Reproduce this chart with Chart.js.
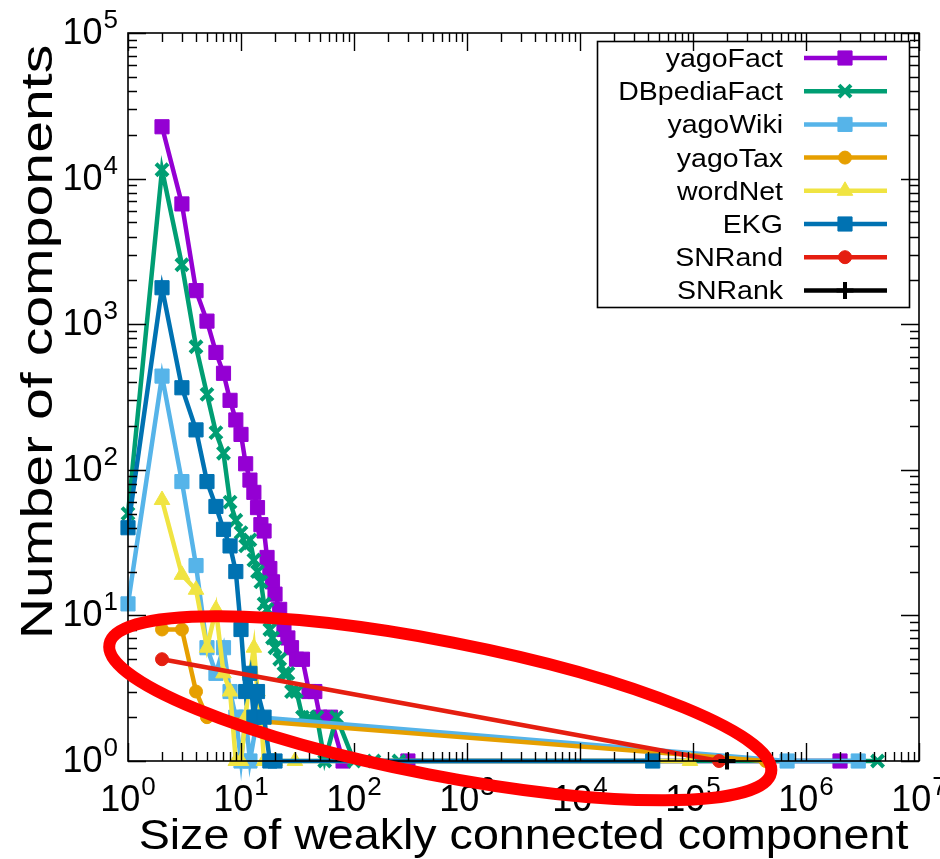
<!DOCTYPE html>
<html>
<head>
<meta charset="utf-8">
<script src="https://cdn.jsdelivr.net/npm/chart.js@4.4.0/dist/chart.umd.min.js"></script>
<style>
  html, body { margin: 0; padding: 0; background: #fff; }
</style>
</head>
<body>
<canvas id="chart" width="940" height="859"></canvas>
<script>
// component size (x) and number of components (y) per graph
const yagoFactSize = [2, 3, 4, 5, 6, 7, 8, 9, 10, 11, 12, 13, 14, 15, 16, 17, 18, 19, 20, 22, 24, 26, 28, 31, 35, 40, 45, 50, 62, 80, 300, 2000000];
const yagoFactCount = [22700, 6700, 1700, 1050, 640, 460, 300, 220, 175, 110, 85, 70, 55, 42, 38, 25, 21, 17, 14, 11, 8, 7, 6, 5, 5, 3, 3, 2, 2, 1, 1, 1];

const dbpediaFactSize = [1, 2, 3, 4, 5, 6, 7, 8, 9, 10, 11, 12, 13, 14, 15, 16, 17, 18, 19, 20, 22, 24, 26, 28, 31, 35, 40, 47, 55, 70, 100, 150, 250, 4300000];
const dbpediaFactCount = [50, 11500, 2560, 700, 330, 180, 130, 60, 45, 37, 30, 33, 24, 20, 17, 12, 11, 8, 7, 6, 5, 4, 4, 3, 3, 2, 2, 2, 1, 2, 1, 1, 1, 1];

const yagoWikiSize = [1, 2, 3, 4, 5, 6, 7, 8, 9, 10, 11, 12, 14, 680000, 2900000];
const yagoWikiCount = [12, 440, 83, 22, 6, 4, 6, 3, 2, 1, 2, 1, 2, 1, 1];

const yagoTaxSize = [2, 3, 4, 5, 440000];
const yagoTaxCount = [8, 8, 3, 2, 1];

const wordNetSize = [2, 3, 4, 5, 6, 7, 8, 9, 10, 11, 12, 13, 14, 15, 16, 20, 30, 94000];
const wordNetCount = [62, 19, 15, 6, 11, 4, 3, 1, 1, 2, 4, 6, 3, 2, 1, 1, 1, 1];

const ekgSize = [1, 2, 3, 4, 5, 6, 7, 8, 9, 10, 11, 12, 13, 14, 16, 18, 20, 44000];
const ekgCount = [40, 1780, 366, 188, 83, 56, 39, 30, 20, 8, 3, 4, 2, 3, 2, 1, 1, 1];

const snRandSize = [2, 170000];
const snRandCount = [5, 1];

const snRankSize = [200000];
const snRankCount = [1];

const seriesNames = ["yagoFact", "DBpediaFact", "yagoWiki", "yagoTax", "wordNet", "EKG", "SNRand", "SNRank"];
const seriesSizes = [yagoFactSize, dbpediaFactSize, yagoWikiSize, yagoTaxSize, wordNetSize, ekgSize, snRandSize, snRankSize];
const seriesCounts = [yagoFactCount, dbpediaFactCount, yagoWikiCount, yagoTaxCount, wordNetCount, ekgCount, snRandCount, snRankCount];
const seriesColors = ["#9400d3", "#009e73", "#56b4e9", "#e69f00", "#f0e442", "#0072b2", "#e51e10", "#000000"];
const seriesMarkers = ["rect", "crossRot", "rect", "circle", "triangle", "rect", "circle", "cross"];

const xExponents = [0, 1, 2, 3, 4, 5, 6, 7];
const yExponents = [0, 1, 2, 3, 4, 5];

const xTitle = "Size of weakly connected component";
const yTitle = "Number of components";
const FONT = "'Liberation Sans', Arial, sans-serif";

function markerRadius(style) {
  if (style === "rect") return 10;
  if (style === "circle") return 6.5;
  if (style === "triangle") return 9;
  return 8.5;
}
function markerBorder(style) {
  return style === "cross" || style === "crossRot" ? 4 : 1;
}

const datasets = seriesNames.map((name, i) => ({
  label: name,
  data: seriesSizes[i].map((s, j) => ({ x: s, y: seriesCounts[i][j] })),
  borderColor: seriesColors[i],
  backgroundColor: seriesColors[i],
  borderWidth: 4.5,
  pointStyle: seriesMarkers[i],
  pointRadius: markerRadius(seriesMarkers[i]),
  pointBorderWidth: markerBorder(seriesMarkers[i]),
  tension: 0,
  clip: false,
  order: seriesNames.length - i
}));

// text with a horizontal stretch factor
function stretchText(ctx, str, x, y, size, align, sx) {
  ctx.save();
  ctx.font = size + "px " + FONT;
  const w = ctx.measureText(str).width * sx;
  let left = x;
  if (align === "center") left = x - w / 2;
  if (align === "right") left = x - w;
  ctx.translate(left, y);
  ctx.scale(sx, 1);
  ctx.textAlign = "left";
  ctx.fillText(str, 0, 0);
  ctx.restore();
  return w;
}

const BASE_PX = 36, EXP_PX = 26;
function powerWidth(ctx, e) {
  ctx.font = BASE_PX + "px " + FONT;
  const a = ctx.measureText("10").width;
  ctx.font = EXP_PX + "px " + FONT;
  return a + 1 + ctx.measureText(String(e)).width;
}
function drawPower(ctx, e, left, baseline) {
  ctx.font = BASE_PX + "px " + FONT;
  ctx.textAlign = "left";
  ctx.fillText("10", left, baseline);
  const a = ctx.measureText("10").width;
  ctx.font = EXP_PX + "px " + FONT;
  ctx.fillText(String(e), left + a + 1, baseline - 16);
}

const framePlugin = {
  id: "frame",
  afterDatasetsDraw(chart) {
    const { ctx, chartArea: a, scales } = chart;
    const xs = scales.x, ys = scales.y;
    ctx.save();
    ctx.strokeStyle = "#000";
    ctx.fillStyle = "#000";
    ctx.lineWidth = 1.6;
    ctx.strokeRect(a.left, a.top, a.right - a.left, a.bottom - a.top);

    // log ticks, inside on all four sides
    ctx.lineWidth = 1.4;
    ctx.beginPath();
    for (let e = xExponents[0]; e <= xExponents[xExponents.length - 1]; e++) {
      for (let m = 1; m < 10; m++) {
        if (e === xExponents[xExponents.length - 1] && m > 1) break;
        const px = Math.round(xs.getPixelForValue(m * Math.pow(10, e))) + 0.5;
        const len = m === 1 ? 18 : 9;
        ctx.moveTo(px, a.bottom); ctx.lineTo(px, a.bottom - len);
        ctx.moveTo(px, a.top); ctx.lineTo(px, a.top + len);
      }
    }
    for (let e = yExponents[0]; e <= yExponents[yExponents.length - 1]; e++) {
      for (let m = 1; m < 10; m++) {
        if (e === yExponents[yExponents.length - 1] && m > 1) break;
        const py = Math.round(ys.getPixelForValue(m * Math.pow(10, e))) + 0.5;
        const len = m === 1 ? 18 : 9;
        ctx.moveTo(a.left, py); ctx.lineTo(a.left + len, py);
        ctx.moveTo(a.right, py); ctx.lineTo(a.right - len, py);
      }
    }
    ctx.stroke();

    // tick labels
    ctx.textBaseline = "alphabetic";
    xExponents.forEach(e => {
      const px = xs.getPixelForValue(Math.pow(10, e));
      drawPower(ctx, e, px - powerWidth(ctx, e) / 2, 811);
    });
    yExponents.forEach(e => {
      const py = ys.getPixelForValue(Math.pow(10, e));
      drawPower(ctx, e, 118 - powerWidth(ctx, e), py + 11);
    });

    // axis titles
    stretchText(ctx, xTitle, (a.left + a.right) / 2, 849, 42, "center", 1.11);
    ctx.save();
    ctx.translate(52, 342);
    ctx.rotate(-Math.PI / 2);
    stretchText(ctx, yTitle, 0, 0, 44, "center", 1.3);
    ctx.restore();

    // key box
    ctx.lineWidth = 1.6;
    ctx.strokeRect(597.5, 41.5, 312, 266);
    chart.data.datasets.forEach((ds, i) => {
      const cy = 58 + i * 33.2;
      ctx.fillStyle = "#000";
      stretchText(ctx, ds.label, 783, cy + 9, 25, "right", 1.14);
      ctx.strokeStyle = ds.borderColor;
      ctx.lineWidth = ds.borderWidth;
      ctx.beginPath();
      ctx.moveTo(804, cy); ctx.lineTo(887, cy);
      ctx.stroke();
      ctx.fillStyle = ds.backgroundColor;
      ctx.lineWidth = ds.pointBorderWidth;
      Chart.helpers.drawPoint(ctx, {
        pointStyle: ds.pointStyle, radius: ds.pointRadius, rotation: 0, borderWidth: ds.pointBorderWidth
      }, 845, cy);
    });
    ctx.restore();
  },
  afterDraw(chart) {
    // highlight ring around the low-count tails
    const { ctx, scales } = chart;
    const cx = scales.x.getPixelForValue(580);
    const cy = scales.y.getPixelForValue(2.3);
    ctx.save();
    ctx.strokeStyle = "#ff0000";
    ctx.lineWidth = 12;
    ctx.beginPath();
    ctx.ellipse(cx, cy, 337, 67, 11 * Math.PI / 180, 0, Math.PI * 2);
    ctx.stroke();
    ctx.restore();
  }
};

new Chart(document.getElementById("chart"), {
  type: "line",
  data: { datasets: datasets },
  options: {
    responsive: false,
    animation: false,
    events: [],
    layout: { padding: { left: 128, right: 21, top: 33, bottom: 98 } },
    scales: {
      x: { type: "logarithmic", min: 1, max: 1e7, display: false },
      y: { type: "logarithmic", min: 1, max: 1e5, display: false }
    },
    plugins: {
      legend: { display: false },
      tooltip: { enabled: false }
    }
  },
  plugins: [framePlugin]
});
</script>
</body>
</html>
